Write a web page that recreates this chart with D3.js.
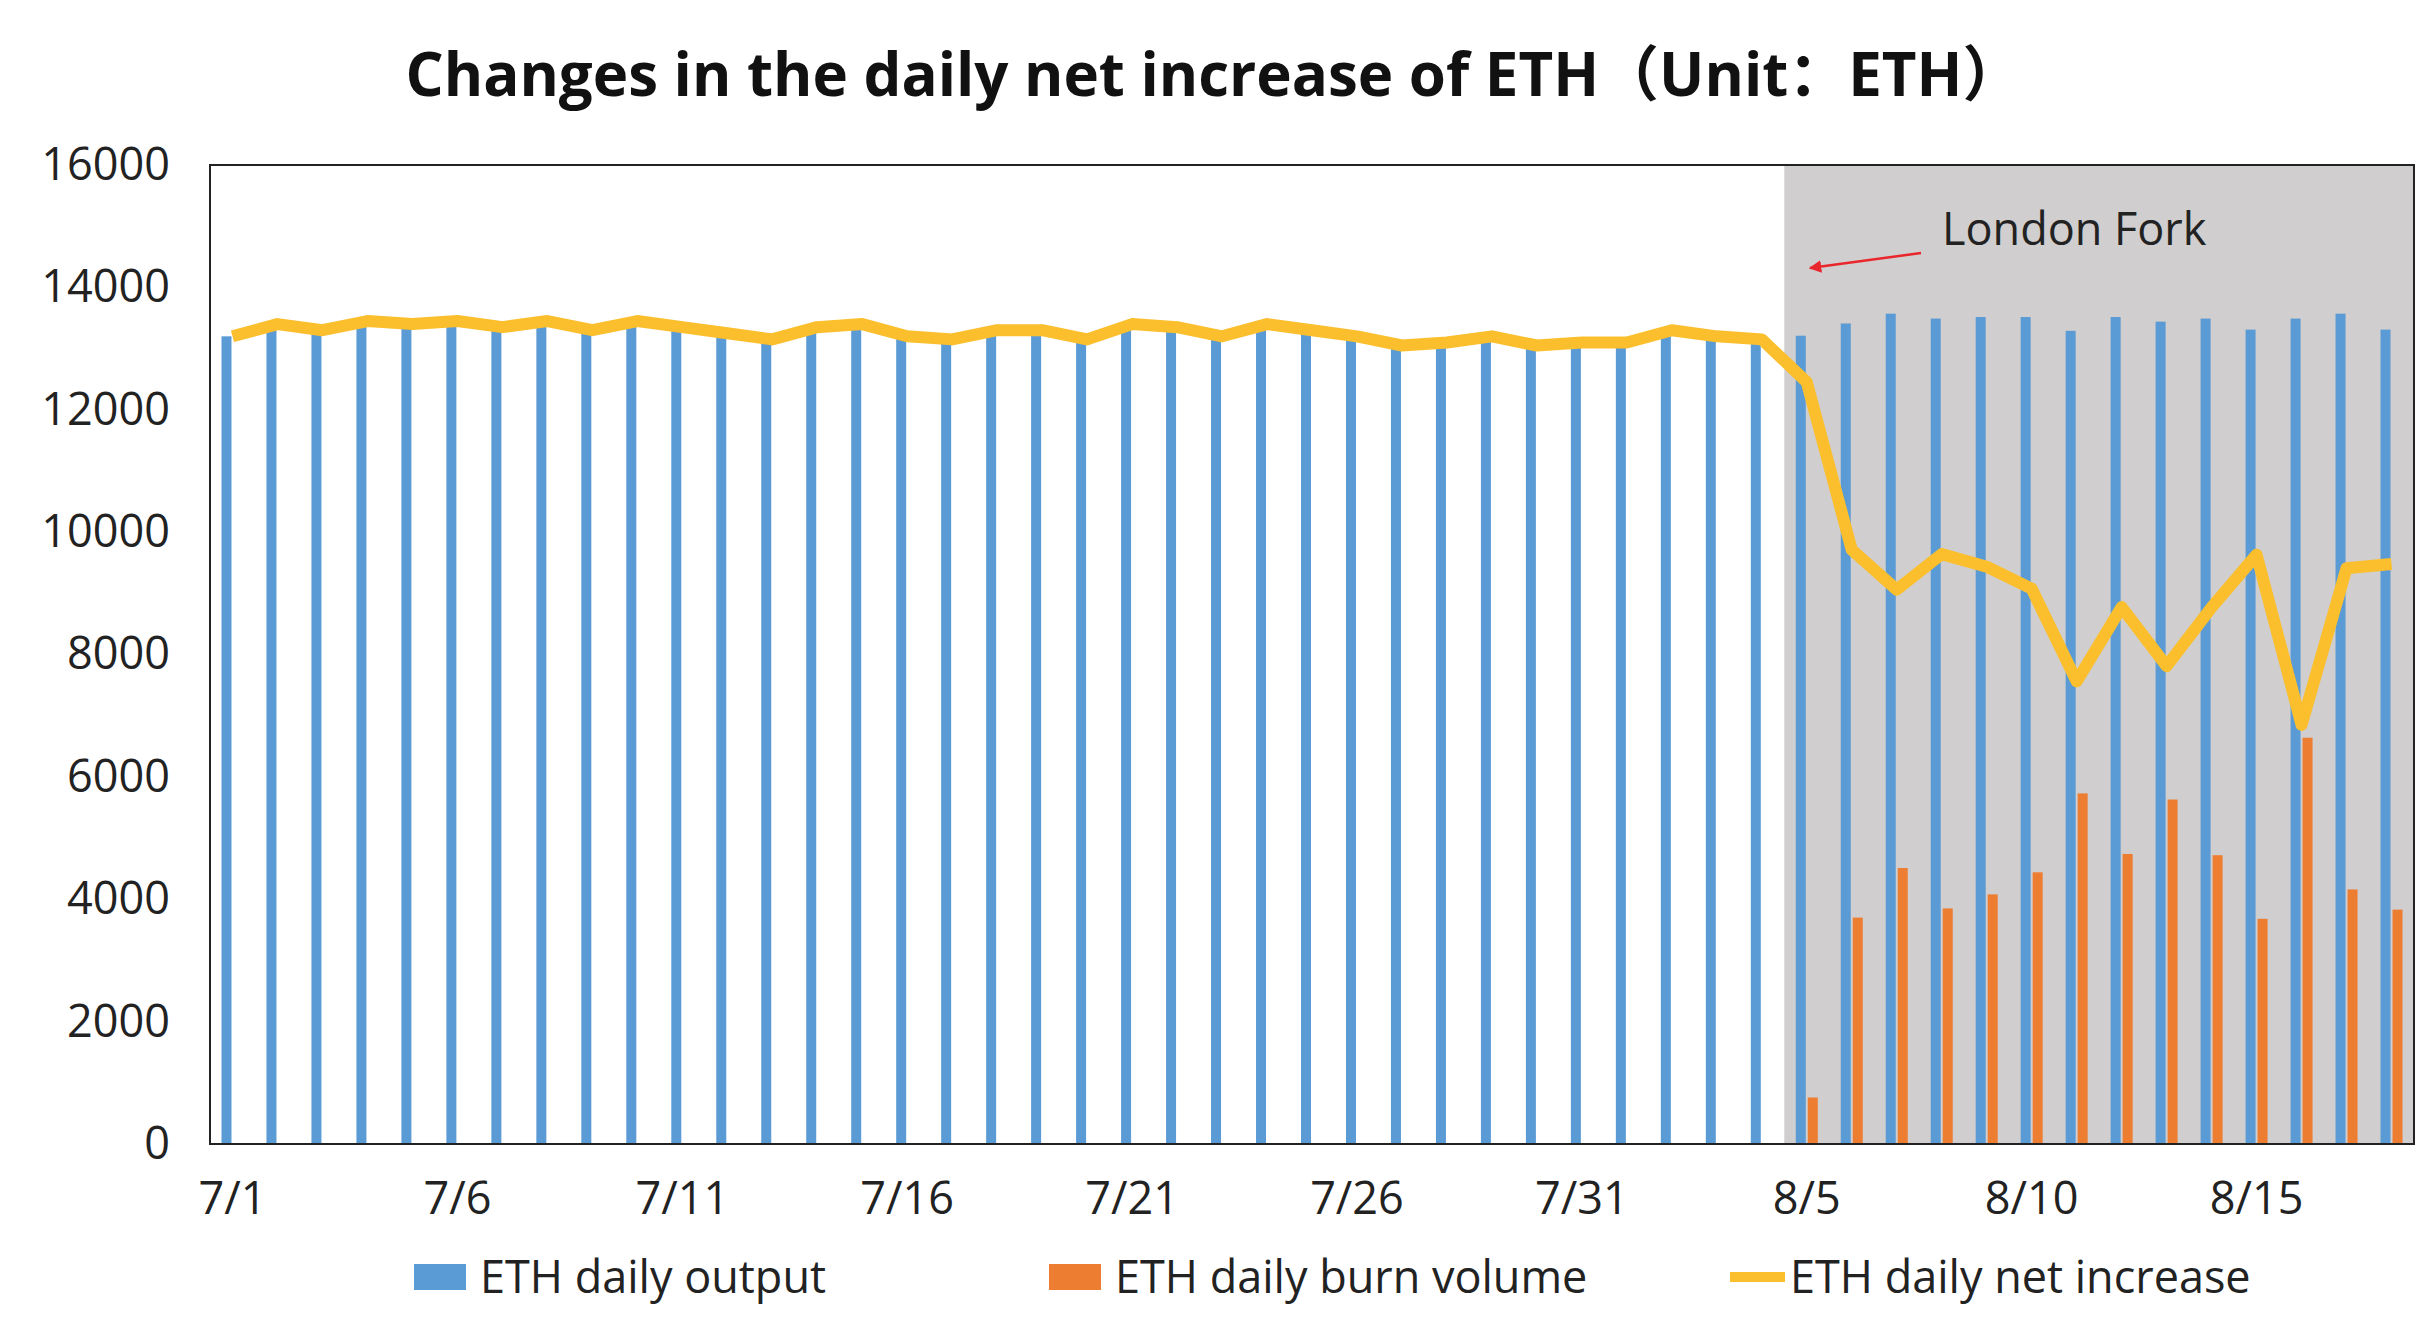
<!DOCTYPE html><html><head><meta charset="utf-8"><script src="https://cdn.jsdelivr.net/npm/d3@7"></script>
<style>body{margin:0;background:#fff}</style></head><body><svg id="c" width="2434" height="1342"></svg>
<script>
const dates=[];for(let d=1;d<=31;d++)dates.push("7/"+d);for(let d=1;d<=18;d++)dates.push("8/"+d);
const output=[13200,13400,13300,13450,13400,13450,13350,13450,13300,13450,13350,13250,13150,13350,13400,13200,13150,13300,13300,13150,13400,13350,13200,13400,13300,13200,13050,13100,13200,13050,13100,13100,13300,13200,13150,
13210,13410,13570,13490,13515,13515,13290,13515,13440,13490,13310,13490,13570,13310];
const burn=[0,0,0,0,0,0,0,0,0,0,0,0,0,0,0,0,0,0,0,0,0,0,0,0,0,0,0,0,0,0,0,0,0,0,0,
760,3700,4510,3850,4080,4440,5730,4740,5630,4720,3680,6640,4160,3830];
const net=[13200,13400,13300,13450,13400,13450,13350,13450,13300,13450,13350,13250,13150,13350,13400,13200,13150,13300,13300,13150,13400,13350,13200,13400,13300,13200,13050,13100,13200,13050,13100,13100,13300,13200,13150,
12450,9710,9060,9640,9435,9075,7560,8775,7810,8770,9630,6850,9410,9480];
const yTicks=[0,2000,4000,6000,8000,10000,12000,14000,16000];
const xTickLabels=["7/1","7/6","7/11","7/16","7/21","7/26","7/31","8/5","8/10","8/15"];
const seriesNames=["ETH daily output","ETH daily burn volume","ETH daily net increase"];
const forkStart="8/5";
const font="'Open Sans','Noto Sans CJK SC',sans-serif";
const L=210,R=2414,T=165,B=1144;
const svg=d3.select("#c");
const x=d3.scaleBand().domain(dates).range([L,R]);
const y=d3.scaleLinear().domain([0,16000]).range([B,T]);
const bw=10;
svg.append("rect").attr("x",x(forkStart)).attr("y",T).attr("width",R-x(forkStart)).attr("height",B-T).attr("fill","#D0CECE");
svg.append("g").selectAll("rect").data(dates).join("rect").attr("x",d=>x(d)+x.bandwidth()/2-6-bw/2).attr("width",bw)
 .attr("y",(d,i)=>y(output[i])).attr("height",(d,i)=>B-y(output[i])).attr("fill","#5B9BD5");
svg.append("g").selectAll("rect").data(dates).join("rect").attr("x",d=>x(d)+x.bandwidth()/2+6-bw/2).attr("width",bw)
 .attr("y",(d,i)=>y(burn[i])).attr("height",(d,i)=>B-y(burn[i])).attr("fill","#ED7D31");
svg.append("path").datum(net).attr("fill","none").attr("stroke","#FBBF2D").attr("stroke-width",12).attr("stroke-linejoin","round")
 .attr("d",d3.line().x((d,i)=>x(dates[i])+x.bandwidth()/2).y(d=>y(d)));
svg.append("rect").attr("x",L).attr("y",T).attr("width",R-L).attr("height",B-T).attr("fill","none").attr("stroke","#222").attr("stroke-width",2);
const ya=svg.append("g").attr("transform",`translate(${L},0)`).call(d3.axisLeft(y).tickValues(yTicks).tickSize(0).tickPadding(40).tickFormat(d3.format("d")));
ya.select(".domain").remove();ya.selectAll("text").attr("font-size",45).attr("font-family",font).attr("fill","#222");
const xa=svg.append("g").attr("transform",`translate(0,${B})`).call(d3.axisBottom(x).tickValues(xTickLabels).tickSize(0).tickPadding(38));
xa.select(".domain").remove();xa.selectAll("text").attr("font-size",45).attr("font-family",font).attr("fill","#222");
svg.append("text").attr("x",1214).attr("y",96).attr("text-anchor","middle").attr("font-size",60).attr("font-weight","bold").attr("font-family",font).attr("fill","#111")
 .text("Changes in the daily net increase of ETH（Unit：ETH）");
svg.append("text").attr("x",1942).attr("y",245).attr("font-size",45).attr("font-family",font).attr("fill","#222").text("London Fork");
svg.append("defs").append("marker").attr("id","ah").attr("viewBox","0 0 10 10").attr("refX",9).attr("refY",5).attr("markerWidth",5).attr("markerHeight",5).attr("orient","auto")
 .append("path").attr("d","M0,0L10,5L0,10z").attr("fill","#E8262B");
svg.append("line").attr("x1",1921).attr("y1",253).attr("x2",1810).attr("y2",268).attr("stroke","#E8262B").attr("stroke-width",2.5).attr("marker-end","url(#ah)");
const lg=[{x:414,c:"#5B9BD5",t:"rect"},{x:1049,c:"#ED7D31",t:"rect"},{x:1730,c:"#FBBF2D",t:"line"}];
lg.forEach((g,i)=>{
 if(g.t==="rect")svg.append("rect").attr("x",g.x).attr("y",1264).attr("width",52).attr("height",26).attr("fill",g.c);
 else svg.append("line").attr("x1",g.x).attr("x2",g.x+55).attr("y1",1277).attr("y2",1277).attr("stroke",g.c).attr("stroke-width",10);
 svg.append("text").attr("x",g.x+(g.t==="rect"?66:60)).attr("y",1293).attr("font-size",45).attr("font-family",font).attr("fill","#222").text(seriesNames[i]);
});
</script></body></html>
